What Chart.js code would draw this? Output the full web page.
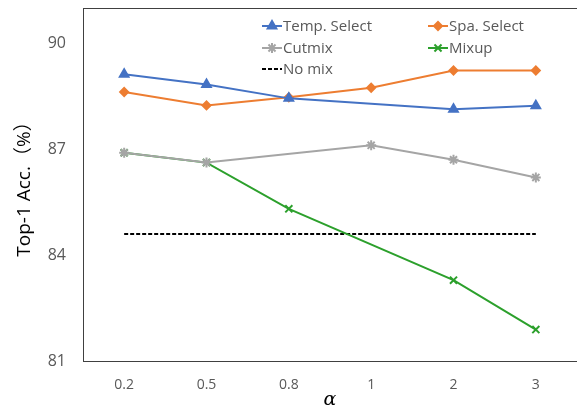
<!DOCTYPE html>
<html>
<head>
<meta charset="utf-8">
<script src="https://cdn.jsdelivr.net/npm/chart.js@4"></script>
<style>
  html, body { margin: 0; padding: 0; background: #fff; }
  #wrap { width: 577px; height: 411px; }
</style>
</head>
<body>
<div id="wrap"><canvas id="chart" width="577" height="411"></canvas></div>
<script>
const alphaLabels = ['0.2', '0.5', '0.8', '1', '2', '3'];
const tempSelect = [89.12, 88.83, 88.44, null, 88.13, 88.23];
const spaSelect = [88.62, 88.24, 88.47, 88.74, 89.23, 89.23];
const cutmix = [86.9, 86.62, null, 87.11, 86.7, 86.2];
const mixup = [86.9, 86.62, 85.31, null, 83.29, 81.89];
const noMix = [84.6, 84.6, 84.6, 84.6, 84.6, 84.6];
const yTicks = [81, 84, 87, 90];

const textGrey = '#595959';

// frame round the plot area
const framePlugin = {
    id: 'frame',
    afterDraw(chart) {
        const a = chart.chartArea;
        const ctx = chart.ctx;
        ctx.save();
        ctx.strokeStyle = '#404040';
        ctx.lineWidth = 1;
        ctx.strokeRect(Math.round(a.left) + 0.5, Math.round(a.top) + 0.5,
            Math.round(a.right - a.left), Math.round(a.bottom - a.top));
        ctx.restore();
    }
};

// legend inside the plot, two columns like the original
const legendSlots = [
    { x: 262, y: 26 }, { x: 428, y: 26 },
    { x: 262, y: 48 }, { x: 428, y: 48 },
    { x: 262, y: 69 }
];
const insideLegend = {
    id: 'insideLegend',
    afterDraw(chart) {
        const ctx = chart.ctx;
        ctx.save();
        chart.data.datasets.forEach((ds, i) => {
            const slot = legendSlots[i];
            ctx.strokeStyle = ds.borderColor;
            ctx.lineWidth = 2;
            ctx.setLineDash(ds.borderDash || []);
            ctx.beginPath();
            ctx.moveTo(slot.x, slot.y);
            ctx.lineTo(slot.x + 20, slot.y);
            ctx.stroke();
            ctx.setLineDash([]);
            if (ds.pointStyle) {
                ctx.fillStyle = ds.borderColor;
                Chart.helpers.drawPoint(ctx, {
                    pointStyle: ds.pointStyle,
                    radius: ds.pointRadius,
                    borderWidth: ds.pointBorderWidth || 1
                }, slot.x + 10, slot.y);
            }
            ctx.fillStyle = textGrey;
            ctx.font = '15px "Open Sans", sans-serif';
            ctx.textBaseline = 'middle';
            ctx.fillText(ds.label, slot.x + 21, slot.y + 1);
        });
        ctx.restore();
    }
};

function series(label, data, colour, style, radius) {
    return {
        label: label,
        data: data,
        borderColor: colour,
        backgroundColor: colour,
        pointBackgroundColor: colour,
        pointBorderColor: colour,
        borderWidth: 2,
        pointStyle: style,
        pointRadius: radius,
        pointBorderWidth: 2,
        spanGaps: true,
        tension: 0
    };
}

const datasets = [
    series('Temp. Select', tempSelect, '#4472C4', 'triangle', 5),
    series('Spa. Select', spaSelect, '#ED7D31', 'rectRot', 4),
    series('Cutmix', cutmix, '#A5A5A5', 'star', 5),
    series('Mixup', mixup, '#2CA02C', 'crossRot', 5),
    {
        label: 'No mix',
        data: noMix,
        borderColor: '#000000',
        borderWidth: 2,
        borderDash: [4, 2],
        pointRadius: 0,
        pointStyle: false,
        tension: 0
    }
];

new Chart(document.getElementById('chart').getContext('2d'), {
    type: 'line',
    data: { labels: alphaLabels, datasets: datasets },
    options: {
        animation: false,
        responsive: false,
        devicePixelRatio: 1,
        layout: {
            autoPadding: false,
            padding: { top: 8, right: -2, left: 0, bottom: 0 }
        },
        scales: {
            x: {
                offset: true,
                grid: { display: false, drawTicks: false },
                border: { display: false },
                ticks: {
                    color: textGrey,
                    font: { family: '"Open Sans", sans-serif', size: 14 },
                    padding: 16
                },
                title: {
                    display: true,
                    text: 'α',
                    color: '#000',
                    font: { family: '"DejaVu Serif", serif', size: 19, style: 'italic' },
                    padding: { top: 6, bottom: 0 }
                },
                afterFit: s => {
                    s.height = 50;
                    s.paddingLeft = 0;
                    s.paddingRight = 0;
                }
            },
            y: {
                min: 81,
                max: 91,
                grid: { display: false, drawTicks: false },
                border: { display: false },
                afterBuildTicks: s => { s.ticks = yTicks.map(v => ({ value: v })); },
                ticks: {
                    color: textGrey,
                    font: { family: '"Open Sans", sans-serif', size: 16 },
                    padding: 17
                },
                title: {
                    display: true,
                    text: 'Top-1 Acc.（%）',
                    color: '#000',
                    font: { family: '"Open Sans", "Noto Sans CJK SC", sans-serif', size: 19 },
                    padding: { top: 13, bottom: 0 }
                },
                afterFit: s => {
                    s.width = 83;
                    s.paddingTop = 0;
                    s.paddingBottom = 0;
                }
            }
        },
        plugins: {
            legend: { display: false },
            tooltip: { enabled: false }
        }
    },
    plugins: [framePlugin, insideLegend]
});
</script>
</body>
</html>
